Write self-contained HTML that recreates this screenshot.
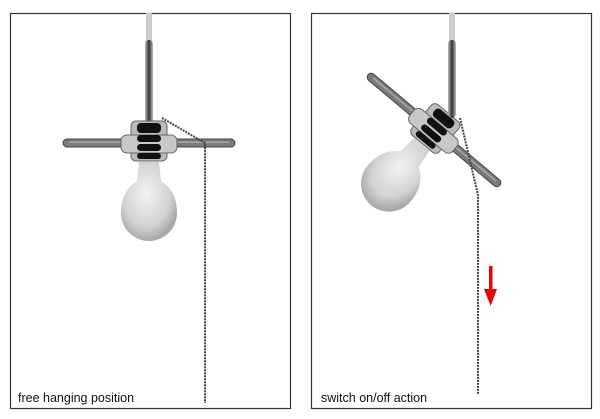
<!DOCTYPE html>
<html><head><meta charset="utf-8"><style>
html,body{margin:0;padding:0;background:#fff;}
svg{display:block;font-family:"Liberation Sans",Arial,sans-serif;}
</style></head><body>
<svg width="600" height="419" viewBox="0 0 600 419">
<defs>
<radialGradient id="bulb" cx="0.45" cy="0.4" r="0.6">
<stop offset="0" stop-color="#f2f2f2"/><stop offset="0.7" stop-color="#d2d2d2"/><stop offset="1" stop-color="#a8a8a8"/>
</radialGradient>
<linearGradient id="cord" x1="0" x2="1">
<stop offset="0" stop-color="#bbb"/><stop offset="0.5" stop-color="#333"/><stop offset="1" stop-color="#bbb"/>
</linearGradient>
<g id="lamp">
<rect x="-86" y="-4" width="172" height="8" rx="4" fill="#7a7a7a" stroke="#444" stroke-width="1"/>
<rect x="-80" y="-1.5" width="160" height="1.5" fill="#aaa"/>
<rect x="-18" y="-22" width="36" height="40" rx="5" fill="#bbb" stroke="#666"/>
<rect x="-28" y="-8" width="56" height="18" rx="6" fill="#c8c8c8" stroke="#666"/>
<rect x="-12" y="-20" width="24" height="10" rx="4" fill="#111"/>
<rect x="-12" y="-8" width="24" height="7" rx="3.5" fill="#111"/>
<rect x="-12" y="1" width="24" height="7" rx="3.5" fill="#111"/>
<rect x="-12" y="10" width="24" height="6" rx="3" fill="#111"/>
<path d="M-10 19 L10 19 L12 38 Q28 48 28 70 A28 28 0 0 1 -28 70 Q-28 48 -12 38 Z" fill="url(#bulb)"/>
</g>
</defs>
<rect x="10.5" y="13.5" width="280" height="395" fill="#fff" stroke="#333" stroke-width="1.2"/>
<rect x="311.5" y="13.5" width="280" height="395" fill="#fff" stroke="#333" stroke-width="1.2"/>

<rect x="146" y="13" width="6" height="30" fill="#ccc"/>
<rect x="145" y="40" width="8" height="85" rx="4" fill="url(#cord)"/>
<use href="#lamp" transform="translate(149,143)"/>
<polyline points="162,118 205,143 205,403" fill="none" stroke="#444" stroke-width="2" stroke-dasharray="2,1"/>

<use href="#lamp" transform="translate(434,130) rotate(40)"/>
<rect x="449" y="13" width="6" height="30" fill="#ccc"/>
<rect x="448" y="40" width="8" height="78" rx="4" fill="url(#cord)"/>
<polyline points="460,118 478,195 478,395" fill="none" stroke="#444" stroke-width="2" stroke-dasharray="2,1"/>

<rect x="489" y="266" width="3.5" height="26" fill="#e00"/>
<polygon points="484,289 497,289 490.7,306" fill="#e00"/>

<text x="18" y="402" font-size="12.5" fill="#111">free hanging position</text>
<text x="321" y="402" font-size="12.5" fill="#111">switch on/off action</text>
</svg>
</body></html>
